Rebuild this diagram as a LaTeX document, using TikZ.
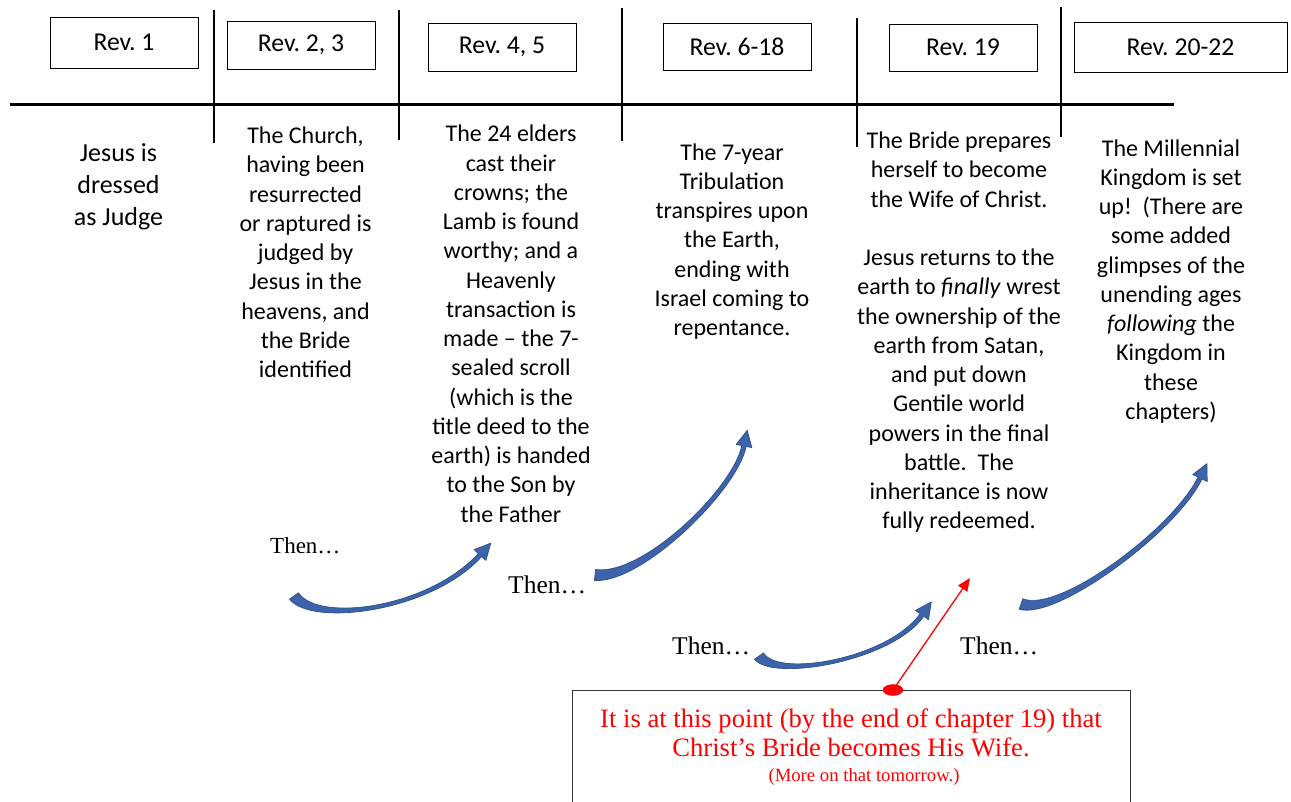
\documentclass[tikz,border=0pt]{standalone}
\usepackage{fontspec}
\setmainfont{Carlito}
\newfontfamily\timesf{Liberation Serif}
\usetikzlibrary{calc,arrows.meta,shapes.geometric}
\definecolor{arrowfill}{RGB}{61,100,170}
\definecolor{arrowline}{RGB}{44,78,138}
\frenchspacing
\tikzset{
  revbox/.style={draw=black, line width=0.9pt, inner sep=0pt, font=\fontsize{25.7}{30}\selectfont},
  coltext/.style={anchor=north, align=center, inner sep=0pt, font=\fontsize{24}{29.25}\selectfont},
  bigcol/.style={anchor=north, align=center, inner sep=0pt, font=\fontsize{26}{32}\selectfont},
  thentext/.style={anchor=base west, inner sep=0pt, font=\timesf\fontsize{25.5}{30}\selectfont},
  sepline/.style={line width=2.4pt, black},
  timeline/.style={line width=3pt, black},
  bluearrow/.style={fill=arrowfill, draw=arrowline, line width=0.7pt, line join=round},
  redtext/.style={inner sep=0pt, align=center, text=red, font=\timesf\fontsize{26.6}{29}\selectfont},
}
\newcommand{\bandarrow}[5]{%
  \coordinate (#1p0) at #2; \coordinate (#1p1) at #3; \coordinate (#1p2) at #4; \coordinate (#1p3) at #5;
  \filldraw[bluearrow]
   ($(#1p0)!5.5pt!90:(#1p1)$) .. controls ($(#1p1)!4pt!-90:(#1p0)$) and ($(#1p2)!2.6pt!90:(#1p3)$) .. ($(#1p3)!2.2pt!-90:(#1p2)$)
   -- ($(#1p3)!8pt!-90:(#1p2)$) -- ($(#1p3)!-16pt!(#1p2)$) -- ($(#1p3)!8pt!90:(#1p2)$) -- ($(#1p3)!2.2pt!90:(#1p2)$)
   .. controls ($(#1p2)!2.6pt!-90:(#1p3)$) and ($(#1p1)!4pt!90:(#1p0)$) .. ($(#1p0)!5.5pt!-90:(#1p1)$) -- cycle;
}
\begin{document}
\begin{tikzpicture}[x=1pt,y=-1pt]
\useasboundingbox (0,0) rectangle (1291,801);
\fill[white] (0,0) rectangle (1291,801);

% timeline and separators
\draw[timeline] (10,104) -- (1174,104);
\draw[sepline] (214,10) -- (214,143);
\draw[sepline] (399,10) -- (399,140);
\draw[sepline] (622,8) -- (622,141);
\draw[sepline] (857,18) -- (857,147);
\draw[sepline] (1061,7) -- (1061,137);

% chapter boxes
\node[revbox, minimum width=148pt, minimum height=51pt] (r1) at (124,42.5) {Rev. 1};
\node[revbox, minimum width=148pt, minimum height=48pt] (r2) at (301,45) {Rev. 2, 3};
\node[revbox, minimum width=148pt, minimum height=48pt] (r4) at (502,47) {Rev. 4, 5};
\node[revbox, minimum width=148pt, minimum height=47pt] (r6) at (737,46.5) {Rev. 6-18};
\node[revbox, minimum width=148pt, minimum height=47pt] (r19) at (963,47.5) {Rev. 19};
\node[revbox, minimum width=213pt, minimum height=50pt] (r20) at (1180.5,47) {Rev. 20-22};

% column texts
\node[bigcol] (c1) at (118.5,139.5) {\rule{0pt}{22pt}Jesus is\\dressed\\as Judge};
\node[coltext] (c2) at (305.5,123.3) {\rule{0pt}{20pt}The Church,\\having been\\resurrected\\or raptured is\\judged by\\Jesus in the\\heavens, and\\the Bride\\identified};
\node[coltext] (c3) at (511,121.7) {\rule{0pt}{20pt}The 24 elders\\cast their\\crowns; the\\Lamb is found\\worthy; and a\\Heavenly\\transaction is\\made – the 7-\\sealed scroll\\(which is the\\title deed to the\\earth) is handed\\to the Son by\\the Father};
\node[coltext] (c4) at (732,140) {\rule{0pt}{20pt}The 7-year\\Tribulation\\transpires upon\\the Earth,\\ending with\\Israel coming to\\repentance.};
\node[coltext] (c5) at (959,128.3) {\rule{0pt}{20pt}The Bride prepares\\herself to become\\the Wife of Christ.\\[29.25pt]Jesus returns to the\\earth to \textit{finally} wrest\\the ownership of the\\earth from Satan,\\and put down\\Gentile world\\powers in the final\\battle.\ \ The\\inheritance is now\\fully redeemed.};
\node[coltext] (c6) at (1171,136) {\rule{0pt}{20pt}The Millennial\\Kingdom is set\\up!\ \ (There are\\some added\\glimpses of the\\unending ages\\\textit{following} the\\Kingdom in\\these\\chapters)};

% "Then..." labels
\node[thentext, font=\timesf\fontsize{23}{28}\selectfont] (t1) at (270,553) {Then…};
\node[thentext] (t2) at (508,593) {Then…};
\node[thentext] (t3) at (672,654) {Then…};
\node[thentext] (t4) at (960,654) {Then…};

% curved blue arrows
\bandarrow{a1}{(294,596)}{(315,625)}{(430,610)}{(480,555)}
\bandarrow{a2}{(595,575)}{(642,580)}{(735,490)}{(744,446)}
\bandarrow{a3}{(759,656)}{(775,680)}{(890,660)}{(922,615)}
\bandarrow{a4}{(1021,604)}{(1058,617)}{(1175,530)}{(1200,478)}

% red note box
\draw[black!80, line width=0.9pt] (572,806) -- (572,690) -- (1130,690) -- (1130,806);
\node[redtext, anchor=north] (note) at (851,706) {\rule{0pt}{21pt}It is at this point (by the end of chapter 19) that\\Christ’s Bride becomes His Wife.};
\node[redtext, anchor=base, font=\timesf\fontsize{18.7}{22}\selectfont] (more) at (864,781) {(More on that tomorrow.)};
\node[ellipse, fill=red, draw=red, minimum width=20pt, minimum height=11pt, inner sep=0pt] (dot) at (893,690) {};
\coordinate (target) at (970,578);
\draw[red, line width=1.3pt, -{Triangle[length=13pt,width=11pt]}] (dot.center) -- (target);
\end{tikzpicture}
\end{document}
